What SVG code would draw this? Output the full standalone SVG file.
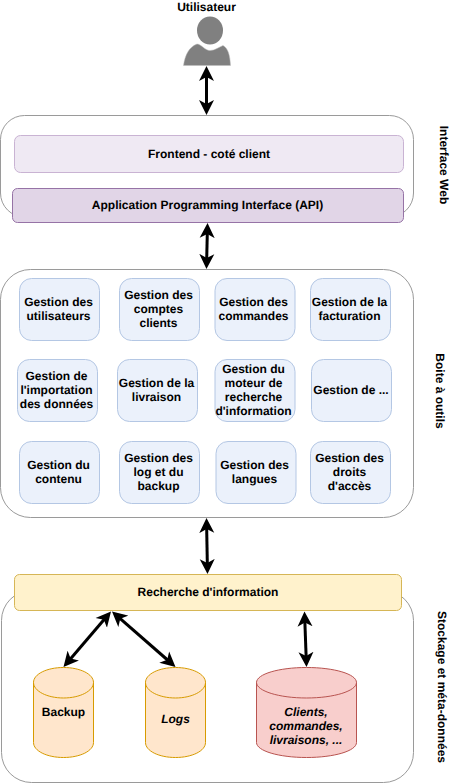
<svg xmlns="http://www.w3.org/2000/svg" width="459" height="783" viewBox="0 0 459 783">
<style>
text{font-family:"Liberation Sans",Arial,sans-serif;font-size:12px;font-weight:bold;fill:#000;text-anchor:middle;text-rendering:geometricPrecision}
.it{font-style:italic}
.group{fill:#fff;stroke:#9a9a9a;stroke-width:1}
.n{fill:#ebf1fb;stroke:#b4c7e4;stroke-width:1}
.conn path{fill:none;stroke:#000;stroke-width:3;marker-start:url(#ah);marker-end:url(#ah)}
.cy{fill:#ffe6cc;stroke:#d79b00;stroke-width:1}
.cr{fill:#f8cecc;stroke:#b85450;stroke-width:1}
.top{fill:none}
</style>
<defs>
<marker id="ah" markerUnits="userSpaceOnUse" viewBox="0 0 16 16" refX="9" refY="8" markerWidth="16" markerHeight="16" orient="auto-start-reverse">
<path d="M0 0.500L15 8L0 15.500L4 8Z" fill="#000"/>
</marker>
</defs>
<g id="utilisateur">
<text x="206.500" y="11">Utilisateur</text>
<ellipse cx="210" cy="30.500" rx="13" ry="14" fill="#808080"/>
<path d="M183.500 65.500C185 55 189 47 197 44C201 44 205 50.500 210 50.500C215 50.500 219 47 223 45.500C228 48 230 55 230.500 65.500Z" fill="#808080" stroke="#bdbdbd" stroke-width="0.500"/>
</g>
<g id="interface-web">
<rect class="group" x="0.500" y="115.500" width="413" height="101.500" rx="24"/>
<text transform="translate(440,165) rotate(90)">Interface Web</text>
</g>
<g id="frontend">
<rect x="14.500" y="135.500" width="389" height="37" rx="6" fill="#efe9f3" stroke="#c9b3d3"/>
<text x="209" y="158">Frontend - coté client</text>
</g>
<g id="api">
<rect x="12.500" y="188.500" width="391" height="34" rx="5" fill="#e1d5e7" stroke="#9673a6"/>
<text x="207.500" y="209">Application Programming Interface (API)</text>
</g>
<g id="boite">
<rect class="group" x="0.500" y="269.500" width="413" height="248" rx="30"/>
<text transform="translate(436,391) rotate(90)">Boite à outils</text>
</g>
<g id="n1"><rect class="n" x="19.500" y="278.500" width="80" height="62" rx="12"/><text x="58.500" y="306">Gestion des</text><text x="58.500" y="320">utilisateurs</text></g>
<g id="n2"><rect class="n" x="119.500" y="278.500" width="80" height="62" rx="12"/><text x="158.500" y="299">Gestion des</text><text x="158.500" y="313">comptes</text><text x="158.500" y="327">clients</text></g>
<g id="n3"><rect class="n" x="215" y="278.500" width="80" height="62" rx="12"/><text x="253.500" y="306">Gestion des</text><text x="253.500" y="320">commandes</text></g>
<g id="n4"><rect class="n" x="310.500" y="278.500" width="80" height="62" rx="12"/><text x="349.500" y="306">Gestion de la</text><text x="349.500" y="320">facturation</text></g>
<g id="n5"><rect class="n" x="17.500" y="359.500" width="80" height="62" rx="12"/><text x="56.500" y="380">Gestion de</text><text x="56.500" y="394">l'importation</text><text x="56.500" y="408">des données</text></g>
<g id="n6"><rect class="n" x="117.500" y="359.500" width="80" height="62" rx="12"/><text x="156.500" y="387">Gestion de la</text><text x="156.500" y="401">livraison</text></g>
<g id="n7"><rect class="n" x="215" y="359.500" width="80" height="62" rx="12"/><text x="253.500" y="373">Gestion du</text><text x="253.500" y="387">moteur de</text><text x="253.500" y="401">recherche</text><text x="253.500" y="415">d'information</text></g>
<g id="n8"><rect class="n" x="311.500" y="359.500" width="80" height="62" rx="12"/><text x="351" y="394">Gestion de ...</text></g>
<g id="n9"><rect class="n" x="19.500" y="441.500" width="80" height="62" rx="12"/><text x="58.500" y="469">Gestion du</text><text x="58.500" y="483">contenu</text></g>
<g id="n10"><rect class="n" x="119.500" y="441.500" width="80" height="62" rx="12"/><text x="158.500" y="462">Gestion des</text><text x="158.500" y="476">log et du</text><text x="158.500" y="490">backup</text></g>
<g id="n11"><rect class="n" x="216" y="441.500" width="80" height="62" rx="12"/><text x="254.500" y="469">Gestion des</text><text x="254.500" y="483">langues</text></g>
<g id="n12"><rect class="n" x="310.500" y="441.500" width="80" height="62" rx="12"/><text x="349.500" y="462">Gestion des</text><text x="349.500" y="476">droits</text><text x="349.500" y="490">d'accès</text></g>
<g id="stockage">
<rect class="group" x="1.500" y="590.500" width="412" height="192" rx="30"/>
<text transform="translate(438,687) rotate(90)">Stockage et méta-données</text>
</g>
<g id="recherche">
<rect x="14.500" y="574.500" width="387" height="36" rx="5" fill="#fff2cc" stroke="#d6b656"/>
<text x="208" y="596">Recherche d'information</text>
</g>
<g id="backup">
<path class="cy" d="M33.500 682.500C33.500 674 47 667.500 63.500 667.500C80 667.500 93.500 674 93.500 682.500V742.500C93.500 751 80 757.500 63.500 757.500C47 757.500 33.500 751 33.500 742.500Z"/>
<path class="cy top" style="fill:none" d="M33.500 682.500C33.500 691 47 698 63.500 698C80 698 93.500 691 93.500 682.500"/>
<text x="63.500" y="716">Backup</text>
</g>
<g id="logs">
<path class="cy" d="M145.500 682.500C145.500 674 159 667.500 175.500 667.500C192 667.500 205.500 674 205.500 682.500V742.500C205.500 751 192 757.500 175.500 757.500C159 757.500 145.500 751 145.500 742.500Z"/>
<path class="cy top" style="fill:none" d="M145.500 682.500C145.500 691 159 698 175.500 698C192 698 205.500 691 205.500 682.500"/>
<text class="it" x="175.500" y="723">Logs</text>
</g>
<g id="clients">
<path class="cr" d="M256.500 682.500C256.500 674 279 667.500 306.500 667.500C334 667.500 356.500 674 356.500 682.500V742.500C356.500 751 334 757.500 306.500 757.500C279 757.500 256.500 751 256.500 742.500Z"/>
<path class="cr top" style="fill:none" d="M256.500 682.500C256.500 691 279 698 306.500 698C334 698 356.500 691 356.500 682.500"/>
<text class="it" x="306" y="716">Clients,</text><text class="it" x="306" y="730">commandes,</text><text class="it" x="306" y="744">livraisons, ...</text>
</g>
<g id="connectors" class="conn">
<path d="M206.500 72L206.500 109"/>
<path d="M207.400 229L206.600 263"/>
<path d="M206.600 524L207.400 568"/>
<path d="M107.100 616L67.400 662.400"/>
<path d="M116.500 615.400L171 663"/>
<path d="M304.700 617.500L306.300 661"/>
</g>
</svg>
